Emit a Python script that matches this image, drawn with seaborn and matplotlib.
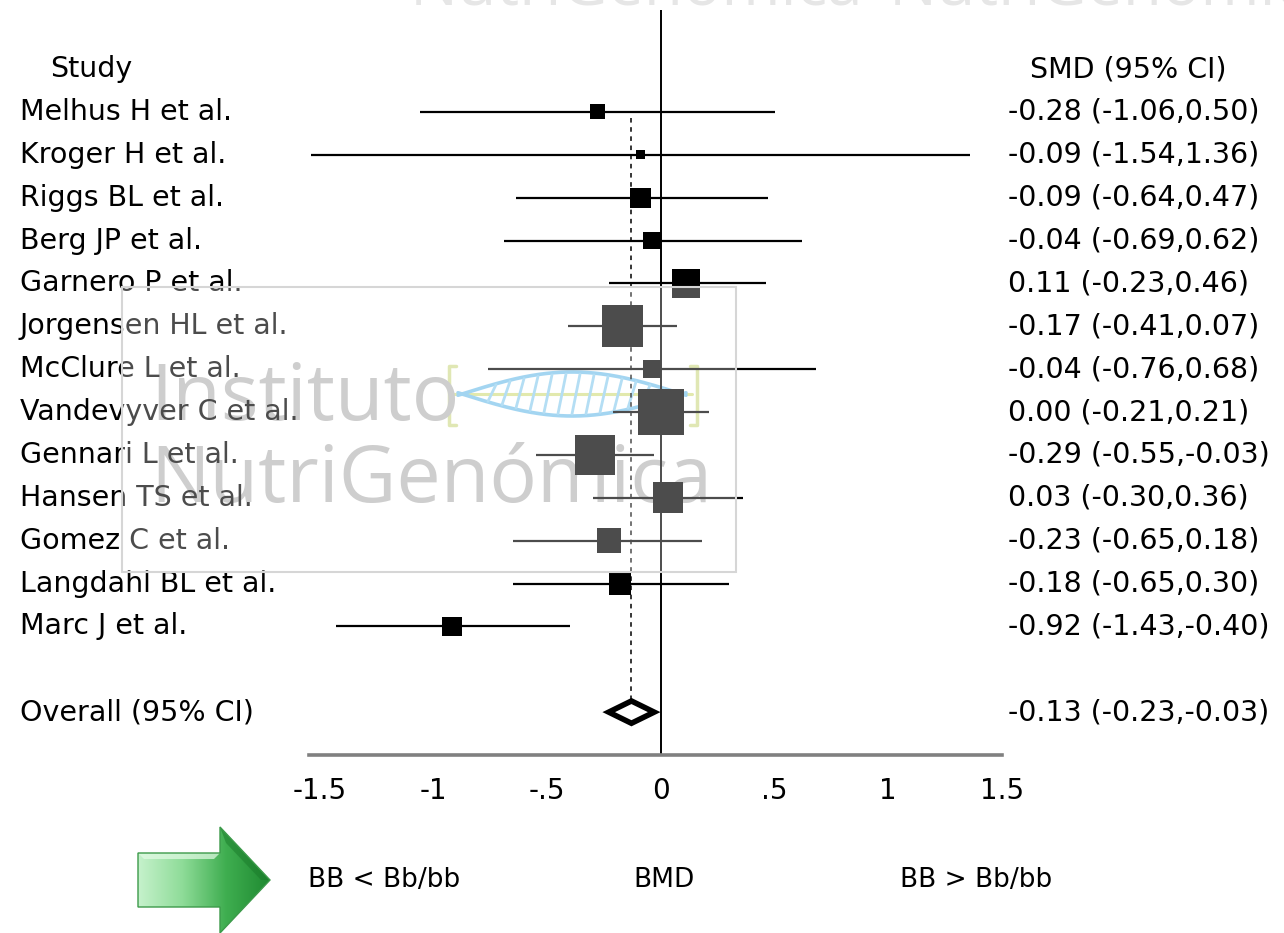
import numpy as np
import pandas as pd
import matplotlib
matplotlib.use("Agg")
import matplotlib.pyplot as plt
import seaborn as sns
from matplotlib.patches import Polygon, Rectangle
from matplotlib.colors import LinearSegmentedColormap

# ---------------- data ----------------
studies = ["Melhus H et al.", "Kroger H et al.", "Riggs BL et al.", "Berg JP et al.",
           "Garnero P et al.", "Jorgensen HL et al.", "McClure L et al.",
           "Vandevyver C et al.", "Gennari L et al.", "Hansen TS et al.",
           "Gomez C et al.", "Langdahl BL et al.", "Marc J et al."]
smd = [-0.28, -0.09, -0.09, -0.04, 0.11, -0.17, -0.04, 0.00, -0.29, 0.03, -0.23, -0.18, -0.92]
ci_low = [-1.06, -1.54, -0.64, -0.69, -0.23, -0.41, -0.76, -0.21, -0.55, -0.30, -0.65, -0.65, -1.43]
ci_high = [0.50, 1.36, 0.47, 0.62, 0.46, 0.07, 0.68, 0.21, -0.03, 0.36, 0.18, 0.30, -0.40]
weights = [2.3, 0.8, 4.1, 3.0, 8.1, 17.3, 3.0, 21.8, 15.7, 9.3, 5.9, 5.0, 3.7]
overall_label = "Overall (95% CI)"
overall = [-0.13, -0.23, -0.03]          # estimate, low, high
xticks = [-1.5, -1, -0.5, 0, 0.5, 1, 1.5]
xticklabels = ["-1.5", "-1", "-.5", "0", ".5", "1", "1.5"]
header_left = "Study"
header_right = "SMD (95% CI)"
bottom_labels = ["BB < Bb/bb", "BMD", "BB > Bb/bb"]
watermark_lines = ["Instituto", "NutriGenómica"]

# ---------------- style ----------------
sns.set_style("white")
plt.rcParams["font.family"] = ["DejaVu Sans"]
plt.rcParams["text.color"] = "black"
plt.rcParams["xtick.color"] = "black"
plt.rcParams["xtick.labelcolor"] = "black"
FS = 20.5

W, H = 1284, 933
fig = plt.figure(figsize=(W / 100, H / 100), dpi=100)
fig.patch.set_facecolor("white")

# ---------------- underlay (watermark text and logo) ----------------
wm = fig.add_axes([0, 0, 1, 1], zorder=0)
wm.axis("off")
wm_font = ["Open Sans", "DejaVu Sans"]
wm.text(150, 420, watermark_lines[0], fontsize=57, color="#b9b9b9",
        family=wm_font, va="baseline")
wm.text(150, 502, watermark_lines[1], fontsize=57, color="#b9b9b9",
        family=wm_font, va="baseline")
xs = np.linspace(458, 686, 200)
t = (xs - 462) / 220 * np.pi
wm.plot([452, 692], [394, 394], color="#d6e08a", lw=2.2)
wm.plot(xs, 394 - 22 * np.sin(t), color="#7cc4ec", lw=2.6)
wm.plot(xs, 394 + 22 * np.sin(t), color="#7cc4ec", lw=2.6)
for xi in np.arange(488, 665, 14):
    a = (xi - 462) / 220 * np.pi
    b = (xi + 8 - 462) / 220 * np.pi
    wm.plot([xi, xi + 8], [394 + 20 * np.sin(a), 394 - 20 * np.sin(b)],
            color="#94d0f0", lw=2.0)
wm.plot([456, 449, 449, 456], [366, 366, 425, 425], color="#d3de94", lw=2.5)
wm.plot([690, 697, 697, 690], [366, 366, 425, 425], color="#d3de94", lw=2.5)
wm.set_xlim(0, W)
wm.set_ylim(H, 0)

# ---------------- forest plot ----------------
axis_px = 755
ax = fig.add_axes([0, (H - axis_px) / H, 1, axis_px / H], zorder=1)
ax.set_facecolor("none")

df = pd.DataFrame({"study": studies, "smd": smd, "lo": ci_low, "hi": ci_high, "w": weights})
df["row"] = np.arange(len(df))
overall_row = len(df) + 1

# confidence intervals
ax.hlines(df["row"], df["lo"], df["hi"], color="black", lw=1.6, zorder=2)

# weighted squares (area proportional to weight)
k = 52.0
sns.scatterplot(data=df, x="smd", y="row", size="w",
                sizes=(k * min(weights), k * max(weights)),
                size_norm=(min(weights), max(weights)),
                marker="s", color="black", linewidth=0, legend=False, ax=ax, zorder=3)

# reference line at 0 and dashed line at overall estimate
ax.vlines(0, -2.38, overall_row + 1, color="black", lw=1.4, zorder=1)
est, olo, ohi = overall
ax.vlines(est, 0.14, overall_row - 0.28, color="black", lw=1.1,
          linestyles=(0, (3, 3)), zorder=1)

# overall diamond
h = 0.26
ax.fill([olo, est, ohi, est], [overall_row, overall_row - h, overall_row, overall_row + h],
        facecolor="white", edgecolor="black", lw=4, zorder=4)

ax.set_xlim(-661 / 227.3, (W - 661) / 227.3)
ax.set_ylim(overall_row + 1, -2.61)
ax.set_xlabel("")
ax.set_ylabel("")
ax.set_yticks([])
ax.set_xticks(xticks, xticklabels)
for s in ["top", "left", "right"]:
    ax.spines[s].set_visible(False)
ax.spines["bottom"].set_bounds(-1.55, 1.5)
ax.spines["bottom"].set_color("#808080")
ax.spines["bottom"].set_linewidth(2.6)
ax.tick_params(axis="x", direction="inout", length=14, width=1.4, color="black",
               pad=9, labelsize=20, labelcolor="black")

# text columns
ytr = ax.get_yaxis_transform()
ax.text(50 / W, -1, header_left, transform=ytr, ha="left", va="center", fontsize=FS)
ax.text(1030 / W, -1, header_right, transform=ytr, ha="left", va="center", fontsize=FS)
for r, name, m, lo, hi in zip(df["row"], studies, smd, ci_low, ci_high):
    ax.text(20 / W, r, name, transform=ytr, ha="left", va="center", fontsize=FS)
    ax.text(1008 / W, r, f"{m:.2f} ({lo:.2f},{hi:.2f})", transform=ytr,
            ha="left", va="center", fontsize=FS)
ax.text(20 / W, overall_row, overall_label, transform=ytr, ha="left", va="center", fontsize=FS)
ax.text(1008 / W, overall_row, f"{est:.2f} ({olo:.2f},{ohi:.2f})", transform=ytr,
        ha="left", va="center", fontsize=FS)

# ---------------- overlay (panel, arrow, footer) ----------------
ov = fig.add_axes([0, 0, 1, 1], zorder=5)
ov.patch.set_alpha(0)
ov.axis("off")

# translucent watermark panel
ov.add_patch(Rectangle((122, 287), 614, 285, facecolor=(1, 1, 1, 0.3),
                       edgecolor="#d6d6d6", lw=1.5))

# cut watermark at the top edge
ov.text(410, 6, "NutriGenómica", fontsize=46, color="#e6e6e6",
        family=wm_font, va="baseline")
ov.text(889, 6, "NutriGenómica", fontsize=46, color="#e6e6e6",
        family=wm_font, va="baseline")

# green arrow
pts = [(138, 853), (220, 853), (220, 827), (270, 880), (220, 933), (220, 907), (138, 907)]
poly = Polygon(pts, closed=True, facecolor="none", edgecolor="#3c9a4a", lw=1.0, zorder=3)
ov.add_patch(poly)
cmap = LinearSegmentedColormap.from_list("g", ["#c6f2cc", "#8fdc99", "#3fae50", "#1f8a31"])
grad = np.linspace(0, 1, 256).reshape(1, -1)
im = ov.imshow(grad, extent=(138, 270, 933, 827), cmap=cmap, aspect="auto", zorder=2)
im.set_clip_path(poly)
ov.add_patch(Polygon([(138, 853), (220, 853), (214, 859), (144, 859)], closed=True,
                     facecolor="#e4fbe6", edgecolor="none", alpha=0.7, zorder=2.5))
ov.add_patch(Polygon([(220, 827), (270, 880), (261, 880), (226, 843)], closed=True,
                     facecolor="#1a7a2a", edgecolor="none", alpha=0.5, zorder=2.5))

# footer labels
ov.text(308, 880, bottom_labels[0], fontsize=19, va="center", ha="left")
ov.text(633, 880, bottom_labels[1], fontsize=19, va="center", ha="left")
ov.text(900, 880, bottom_labels[2], fontsize=19, va="center", ha="left")

ov.set_xlim(0, W)
ov.set_ylim(H, 0)

fig.savefig("out.png", dpi=100)
